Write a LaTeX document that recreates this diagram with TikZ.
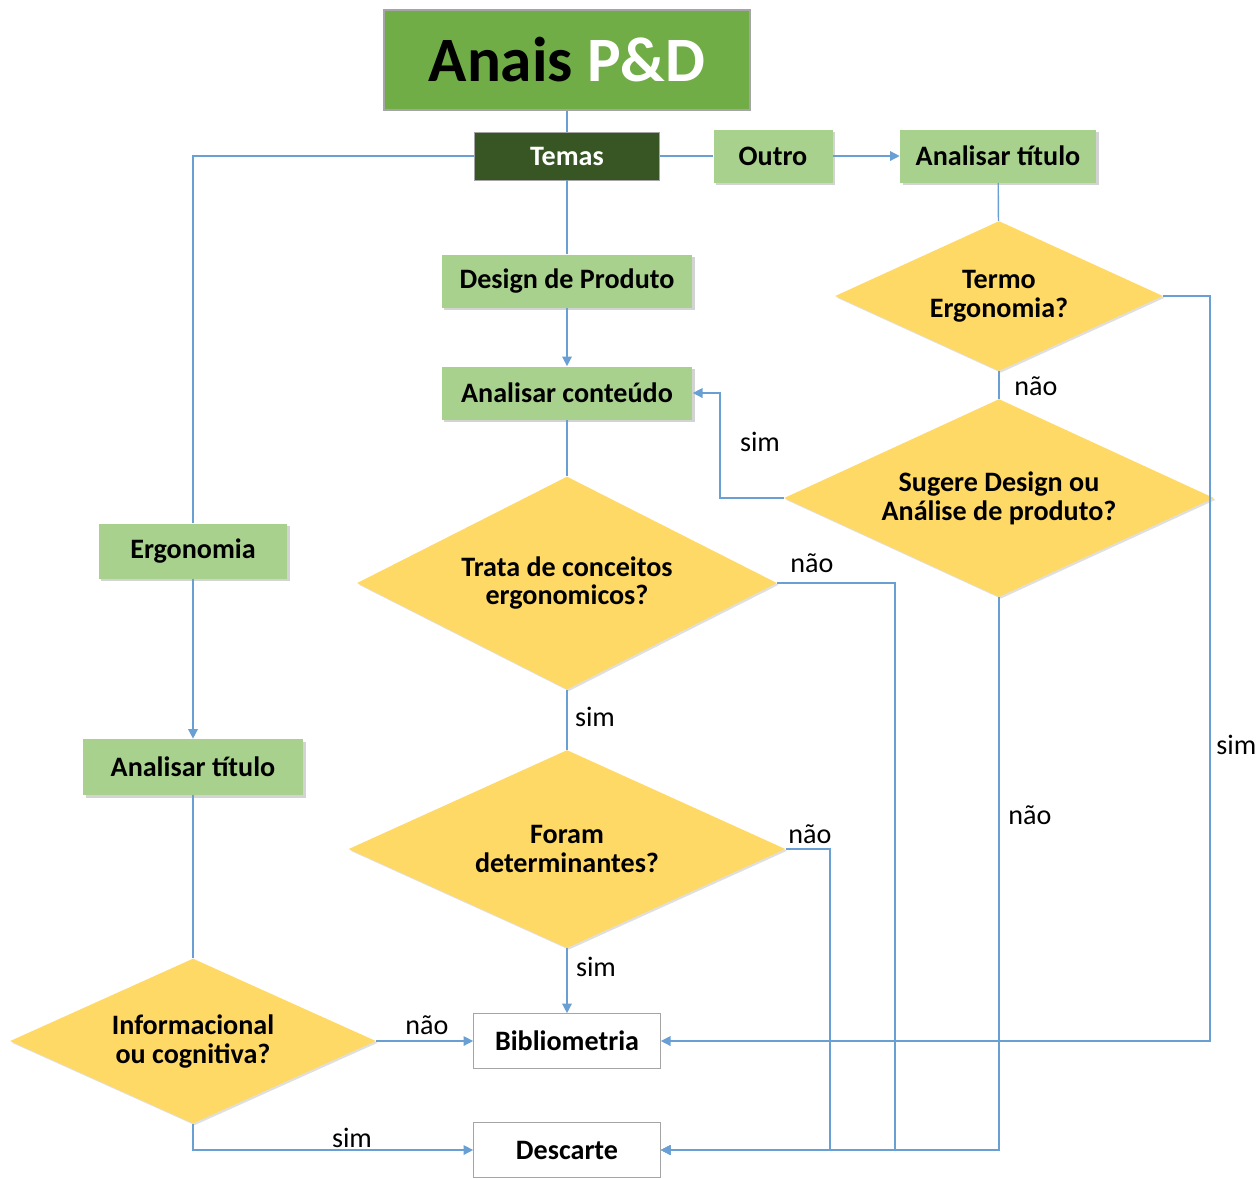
\documentclass[tikz,border=0pt]{standalone}
\usepackage{fontspec}
\setmainfont{Carlito}
\usetikzlibrary{arrows.meta,positioning,shapes.geometric,shadows}
\definecolor{verdetit}{HTML}{70AD47}
\definecolor{verdeesc}{HTML}{375623}
\definecolor{verdecla}{HTML}{A9D18E}
\definecolor{amarelo}{HTML}{FFD966}
\definecolor{azullin}{HTML}{6A9FD4}
\definecolor{bordacinza}{HTML}{A5A5A5}

\begin{document}
\begin{tikzpicture}[
			x=0.02cm, y=-0.02cm,
			titulo/.style={draw=bordacinza,line width=1pt,fill=verdetit,minimum width=7.32cm,minimum height=2cm,font=\fontsize{36}{40}\selectfont\bfseries},
			tema/.style={draw=bordacinza,fill=verdeesc,text=white,minimum width=3.7cm,minimum height=0.96cm,font=\fontsize{16}{18}\selectfont\bfseries},
			caixa/.style={fill=verdecla,drop shadow={shadow xshift=1.5pt,shadow yshift=-1.5pt,opacity=0.35},minimum height=1.06cm,font=\fontsize{16}{18}\selectfont\bfseries},
			decisao/.style={diamond,aspect=2,fill=amarelo,inner sep=0pt,align=center,drop shadow={shadow xshift=1pt,shadow yshift=-1pt,opacity=0.25},font=\fontsize{16}{16.5}\selectfont\bfseries},
			fim/.style={draw=bordacinza,fill=white,minimum width=3.74cm,minimum height=1.1cm,font=\fontsize{16}{18}\selectfont\bfseries},
			linha/.style={azullin,line width=0.8pt},
			seta/.style={linha,-{Triangle[length=5.5pt,width=5.5pt]}},
			rot/.style={font=\fontsize{16}{18}\selectfont,inner sep=0pt}
			]
			\useasboundingbox (0,0) rectangle (1260,1178);
			% caixas
			\node[titulo] (anais) at (567,60) {Anais \textcolor{white}{P\&D}};
			\node[tema] (temas) at (567,156) {Temas};
			\node[caixa,minimum width=2.38cm] (outro) at (773,156) {Outro};
			\node[caixa,minimum width=3.92cm] (titA) at (998,156) {Analisar título};
			\node[caixa,minimum width=5.02cm] (design) at (567,281) {Design de Produto};
			\node[caixa,minimum width=5.02cm] (conteudo) at (567,393) {Analisar conteúdo};
			\node[caixa,minimum width=3.78cm,minimum height=1.1cm] (ergo) at (193,551) {Ergonomia};
			\node[caixa,minimum width=4.4cm,minimum height=1.12cm] (titB) at (193,767) {Analisar título};
			% decisoes
			\node[decisao,minimum width=6.56cm,minimum height=3cm] (termo) at (999,296) {Termo\\Ergonomia?};
			\node[decisao,minimum width=8.6cm,minimum height=3.96cm] (sugere) at (999,498) {Sugere Design ou\\Análise de produto?};
			\node[decisao,minimum width=8.4cm,minimum height=4.26cm] (trata) at (567,583) {Trata de conceitos\\ergonomicos?};
			\node[decisao,minimum width=8.74cm,minimum height=3.96cm] (foram) at (567,849) {Foram\\determinantes?};
			\node[decisao,minimum width=7.32cm,minimum height=3.3cm] (inform) at (193,1041) {Informacional\\ou cognitiva?};
			% saidas
			\node[fim] (biblio) at (567,1041) {Bibliometria};
			\node[fim] (descarte) at (567,1150) {Descarte};
			% ligacoes
			\draw[linha] (anais) -- (temas);
			\draw[linha] (temas.west) -| (ergo.north);
			\draw[seta] (ergo) -- (titB);
			\draw[linha] (temas) -- (outro);
			\draw[seta] (outro) -- (titA);
			\draw[linha] (temas) -- (design);
			\draw[seta] (design) -- (conteudo);
			\draw[linha] (titA) -- (termo);
			\draw[linha] (termo) -- (sugere);
			\coordinate (volta) at (720,498);
			\draw[seta] (sugere.west) -- (volta) |- (conteudo.east);
			\coordinate (dirsim) at (1210,1041);
			\draw[seta] (termo.east) -| (dirsim) -- (biblio.east);
			\draw[seta] (sugere.south) |- (descarte.east);
			\draw[linha] (conteudo) -- (trata);
			\coordinate (tnao) at (895,583);
			\draw[seta] (trata.east) -- (tnao) |- (descarte.east);
			\draw[linha] (trata) -- (foram);
			\coordinate (fnao) at (830,849);
			\draw[seta] (foram.east) -- (fnao) |- (descarte.east);
			\draw[seta] (foram) -- (biblio);
			\draw[linha] (titB) -- (inform);
			\draw[seta] (inform.east) -- (biblio.west);
			\draw[seta] (inform.south) |- (descarte.west);
			% rotulos
			\node[rot] (r1) at (1036,386) {não};
			\node[rot] (r2) at (760,442) {sim};
			\node[rot] (r3) at (812,563) {não};
			\node[rot] (r4) at (595,717) {sim};
			\node[rot] (r5) at (810,834) {não};
			\node[rot] (r6) at (596,967) {sim};
			\node[rot] (r7) at (1030,815) {não};
			\node[rot,anchor=west] (r8) at (1216,745) {sim};
			\node[rot] (r9) at (427,1025) {não};
			\node[rot] (r10) at (352,1138) {sim};
		\end{tikzpicture}
\end{document}
